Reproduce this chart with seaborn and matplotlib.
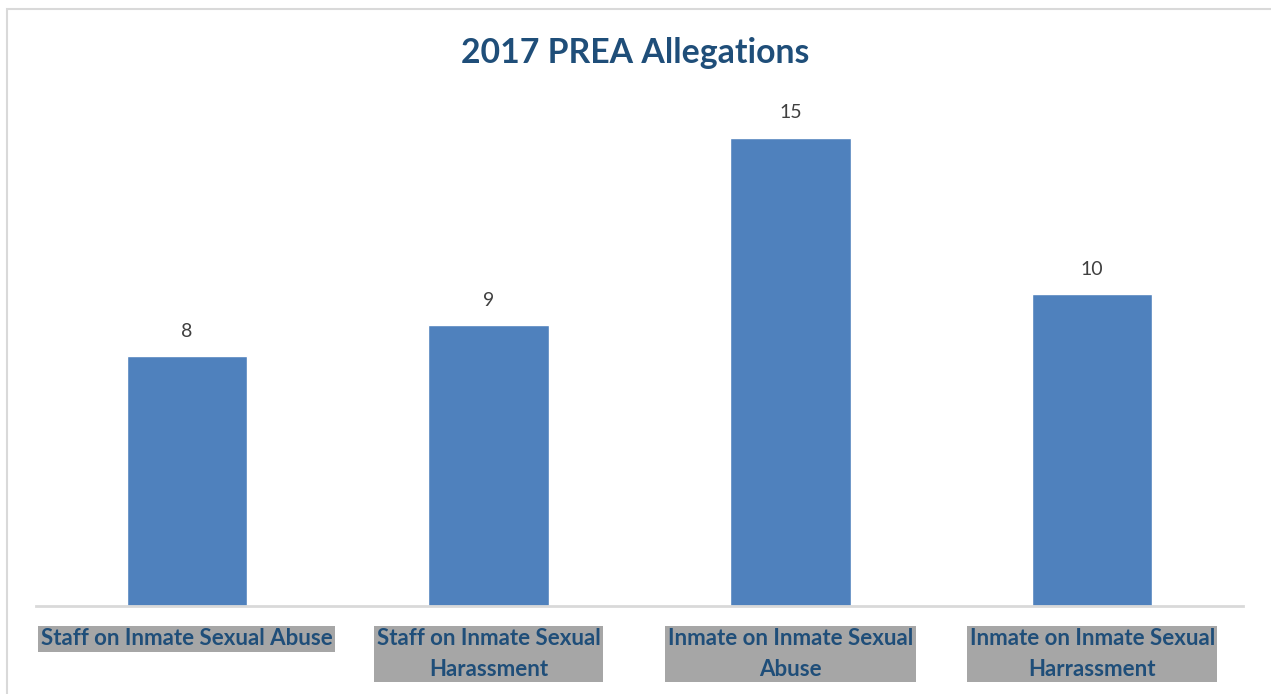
import matplotlib
matplotlib.use("Agg")
import matplotlib.pyplot as plt
import seaborn as sns
import pandas as pd
from matplotlib.patches import Rectangle

# chart data
categories = ["Staff on Inmate Sexual Abuse",
              "Staff on Inmate Sexual\nHarassment",
              "Inmate on Inmate Sexual\nAbuse",
              "Inmate on Inmate Sexual\nHarrassment"]
counts = [8, 9, 15, 10]
title = "2017 PREA Allegations"

df = pd.DataFrame({"category": categories, "count": counts})

sns.set_style("white")
plt.rcParams["font.family"] = ["Lato", "DejaVu Sans"]

fig = plt.figure(figsize=(12.71, 6.94), dpi=100)
ax = fig.add_axes([36 / 1271, 88 / 694, 1207 / 1271, 499.2 / 694])

sns.barplot(data=df, x="category", y="count", color="#4F81BD", saturation=1,
            width=0.4, ax=ax)

ax.set_xlim(-0.5, 3.5)
ax.set_ylim(0, 16)
ax.set_xlabel("")
ax.set_ylabel("")
ax.set_yticks([])
for s in ["top", "left", "right"]:
    ax.spines[s].set_visible(False)
ax.spines["bottom"].set_color("#D9D9D9")
ax.spines["bottom"].set_linewidth(2)

# value labels above bars
for i, v in enumerate(counts):
    ax.annotate(str(v), (i, v), xytext=(0, 18), textcoords="offset points",
                ha="center", va="center", fontsize=14, color="#404040")

# category labels with grey boxes
ax.set_xticks(range(len(categories)))
ax.set_xticklabels(categories, fontsize=16, fontweight="bold", color="#1F4E79",
                   linespacing=1.55)
ax.tick_params(axis="x", length=0, pad=16)
for lab in ax.get_xticklabels():
    lab.set_va("top")
    lab.set_bbox(dict(facecolor="#A6A6A6", edgecolor="none", pad=2))

fig.text(0.5, 1 - 53 / 694, title, ha="center", va="center", fontsize=24.3,
         fontweight="bold", color="#1F4E79")

# chart frame (left and top edges)
fig.patches.append(Rectangle((7 / 1271, -0.1), 1.2, 1 - 9 / 694 + 0.1,
                             transform=fig.transFigure, fill=False,
                             edgecolor="#D9D9D9", linewidth=1.5))

fig.savefig("out.png", dpi=100)
